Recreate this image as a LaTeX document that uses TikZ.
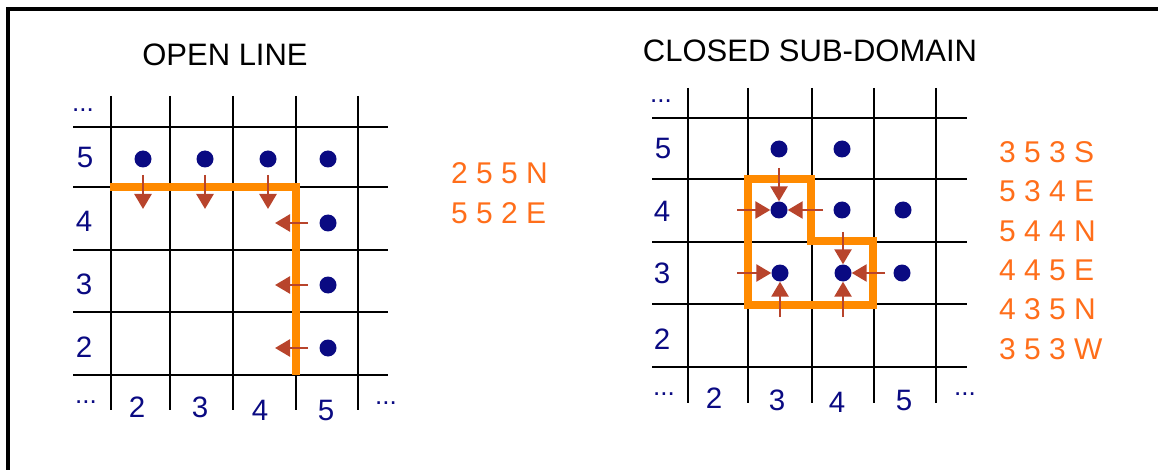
\documentclass[tikz,border=0pt]{standalone}
\usepackage{fontspec}
\setmainfont{Liberation Sans}
\usetikzlibrary{arrows.meta,calc}
\definecolor{navy}{HTML}{0A0A82}
\definecolor{oline}{HTML}{FF8A00}
\definecolor{otext}{HTML}{FF6E1A}
\definecolor{fluxc}{HTML}{B8442C}
\begin{document}
\begin{tikzpicture}[x=1pt,y=-1pt,
 grid/.style={black, line width=1.1pt},
 dot/.style={circle, fill=navy, inner sep=0pt, minimum size=17pt},
 lab/.style={text=navy, font=\fontsize{29.5}{34}\selectfont, anchor=base, inner sep=0pt},
 dots/.style={text=navy, font=\fontsize{26}{30}\selectfont, anchor=base, inner sep=0pt},
 title/.style={font=\fontsize{31}{36}\selectfont, anchor=base, inner sep=0pt},
 code/.style={text=otext, font=\fontsize{30}{35}\selectfont, anchor=base west, inner sep=0pt},
 bound/.style={oline, line width=8pt, line join=miter},
 flux/.style={fluxc, line width=2.6pt, -{Triangle[length=15pt,width=17pt]}},
]
\useasboundingbox (0,0) rectangle (1158,470);
% frame
\draw[line width=4pt] (8,470) -- (8,9) -- (1158,9);

% titles
\node[title] (t1) at (225,66) {OPEN LINE};
\node[title] (t2) at (810,62) {CLOSED SUB-DOMAIN};

% ---------- left grid ----------
\foreach \x in {111,170,233,296,358} \draw[grid] (\x,96) -- (\x,410);
\foreach \y in {127,187,250,312,375} \draw[grid] (73,\y) -- (388,\y);

\node[lab] (l5) at (85,168) {5};
\node[lab] (l4) at (84,232) {4};
\node[lab] (l3) at (84,294) {3};
\node[lab] (l2) at (84,357) {2};
\node[dots] (ltd) at (83,112) {...};
\node[dots] (lbd) at (86,403) {...};
\node[lab] (lb2) at (137,417) {2};
\node[lab] (lb3) at (200,417) {3};
\node[lab] (lb4) at (260,420) {4};
\node[lab] (lb5) at (326,420) {5};
\node[dots] (lrd) at (386,404) {...};

\draw[bound] (110,187) -- (296,187) -- (296,375);

\node[dot] (L25) at (143,159) {};
\node[dot] (L35) at (205,159) {};
\node[dot] (L45) at (268,159) {};
\node[dot] (L55) at (328,159) {};
\node[dot] (L54) at (328,223) {};
\node[dot] (L53) at (328,285) {};
\node[dot] (L52) at (328,348) {};

\foreach \n in {L25,L35,L45} \draw[flux] ($(\n)+(0,16)$) -- ++(0,34);
\foreach \n in {L54,L53,L52} \draw[flux] ($(\n)+(-20,0)$) -- ++(-33,0);

\node[code] (c1) at (451,184) {2 5 5 N};
\node[code] (c2) at (451,224) {5 5 2 E};

% ---------- right grid ----------
\foreach \x in {688,748,812,874,936} \draw[grid] (\x,88) -- (\x,403);
\foreach \y in {118,179,242,304,367} \draw[grid] (652,\y) -- (967,\y);

\node[lab] (r5) at (663,159) {5};
\node[lab] (r4) at (662,222) {4};
\node[lab] (r3) at (662,283) {3};
\node[lab] (r2) at (662,349) {2};
\node[dots] (rtd) at (661,103) {...};
\node[dots] (rbd) at (664,395) {...};
\node[lab] (rb2) at (714,408) {2};
\node[lab] (rb3) at (777,410) {3};
\node[lab] (rb4) at (837,412) {4};
\node[lab] (rb5) at (904,410) {5};
\node[dots] (rrd) at (965,395) {...};

\draw[bound] (748,179) -- (811,179) -- (811,241) -- (873,241) -- (873,305) -- (748,305) -- cycle;

\node[dot] (R35) at (779,149) {};
\node[dot] (R45) at (842,149) {};
\node[dot] (R34) at (779,210) {};
\node[dot] (R44) at (842,210) {};
\node[dot] (R54) at (903,210) {};
\node[dot] (R33) at (780,273) {};
\node[dot] (R43) at (843,273) {};
\node[dot] (R53) at (902,273) {};

\draw[flux] ($(R34)+(0,-42)$) -- (R34);
\draw[flux] ($(R34)+(-42,0)$) -- (R34);
\draw[flux] ($(R34)+(44,0)$) -- (R34);
\draw[flux] ($(R43)+(0,-41)$) -- (R43);
\draw[flux] ($(R43)+(42,0)$) -- (R43);
\draw[flux] ($(R43)+(0,44)$) -- (R43);
\draw[flux] ($(R33)+(-43,0)$) -- (R33);
\draw[flux] ($(R33)+(0,44)$) -- (R33);

\node[code] (d1) at (999,163) {3 5 3 S};
\node[code] (d2) at (999,202) {5 3 4 E};
\node[code] (d3) at (999,241) {5 4 4 N};
\node[code] (d4) at (999,280) {4 4 5 E};
\node[code] (d5) at (999,319) {4 3 5 N};
\node[code] (d6) at (999,359) {3 5 3 W};
\end{tikzpicture}
\end{document}
